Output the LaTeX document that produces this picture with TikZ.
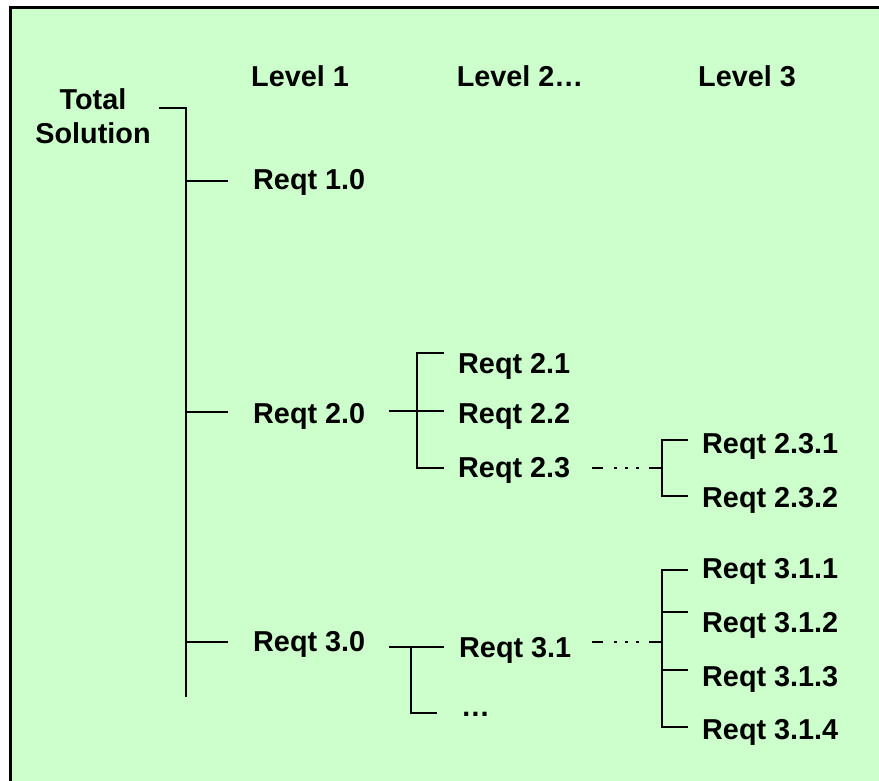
\documentclass[tikz,border=0pt]{standalone}
\usepackage{fontspec}
\setmainfont{Liberation Sans}
\definecolor{panel}{HTML}{CCFFCC}
\begin{document}
\begin{tikzpicture}[x=1pt,y=-1pt,
  lbl/.style={font=\bfseries\fontsize{28.8}{34}\selectfont, inner sep=0pt, anchor=base west},
  head/.style={font=\bfseries\fontsize{28.8}{34}\selectfont, inner sep=0pt, anchor=base},
  wire/.style={line width=2.7pt, line join=miter},
  skip/.style={line width=2.7pt, dash pattern=on 11pt off 11pt on 2.5pt off 8.5pt on 2.5pt off 8.5pt on 2.5pt off 10.5pt on 14pt}]
\useasboundingbox (0,0) rectangle (879,780);
\clip (0,0) rectangle (879,780);
\fill[white] (0,0) rectangle (879,780);
% panel with its frame (runs off the right and bottom edges)
\fill[panel] (10.5,7.5) rectangle (900,800);
\draw[line width=3pt] (10.5,800) |- (900,7.5);

% column headings
\node[head] (lv1) at (300,86) {Level 1};
\node[head] (lv2) at (520,86) {Level 2…};
\node[head] (lv3) at (747,86) {Level 3};

% root
\node[font=\bfseries\fontsize{28.8}{34}\selectfont, inner sep=0pt, align=center, anchor=north] (root) at (93,88) {Total\\Solution};

% level 1
\node[lbl] (r10) at (253,189) {Reqt 1.0};
\node[lbl] (r20) at (253,423) {Reqt 2.0};
\node[lbl] (r30) at (253,651) {Reqt 3.0};

% level 2
\node[lbl] (r21) at (458,373) {Reqt 2.1};
\node[lbl] (r22) at (458,423) {Reqt 2.2};
\node[lbl] (r23) at (458,477) {Reqt 2.3};
\node[lbl] (r31) at (459,657) {Reqt 3.1};
\node[lbl] (r3x) at (461,716) {…};

% level 3
\node[lbl] (r231) at (702,453) {Reqt 2.3.1};
\node[lbl] (r232) at (702,507) {Reqt 2.3.2};
\node[lbl] (r311) at (702,578) {Reqt 3.1.1};
\node[lbl] (r312) at (702,632) {Reqt 3.1.2};
\node[lbl] (r313) at (702,686) {Reqt 3.1.3};
\node[lbl] (r314) at (702,739) {Reqt 3.1.4};

% junction points of the tree
\coordinate (rootout) at (159,108);
\coordinate (trunkend) at (186,697);
\coordinate (t10) at (186,181);
\coordinate (t20) at (186,412);
\coordinate (t30) at (186,642);
\coordinate (e10) at (228,181);
\coordinate (e20) at (228,412);
\coordinate (e30) at (228,642);

\coordinate (s20) at (389,411);
\coordinate (b21) at (444,353);
\coordinate (b22) at (444,411);
\coordinate (b23) at (444,468);
\coordinate (v2) at (417,468);

\coordinate (s30) at (389,647);
\coordinate (b31) at (444,647);
\coordinate (v3) at (411,647);
\coordinate (b3x) at (437,713);

\coordinate (d23) at (592,468);
\coordinate (k23) at (662,468);
\coordinate (b231) at (688,440);
\coordinate (b232) at (688,496);
\coordinate (v23) at (662,496);

\coordinate (d31) at (592,642);
\coordinate (k31) at (662,642);
\coordinate (b311) at (688,570);
\coordinate (b312) at (688,612);
\coordinate (b313) at (688,670);
\coordinate (b314) at (688,727);
\coordinate (v31) at (662,727);

% root trunk and level-1 branches
\draw[wire] (rootout) -| (trunkend);
\draw[wire] (t10) -- (e10);
\draw[wire] (t20) -- (e20);
\draw[wire] (t30) -- (e30);

% Reqt 2.0 children
\draw[wire] (s20) -- (b22);
\draw[wire] (b21) -| (v2) -- (b23);

% Reqt 3.0 children
\draw[wire] (s30) -- (b31);
\draw[wire] (v3) |- (b3x);

% Reqt 2.3 children
\draw[skip] (d23) -- (k23);
\draw[wire] (b231) -| (v23) -- (b232);

% Reqt 3.1 children
\draw[skip] (d31) -- (k31);
\draw[wire] (b311) -| (v31) -- (b314);
\draw[wire] (k31 |- b312) -- (b312);
\draw[wire] (k31 |- b313) -- (b313);
\end{tikzpicture}
\end{document}
